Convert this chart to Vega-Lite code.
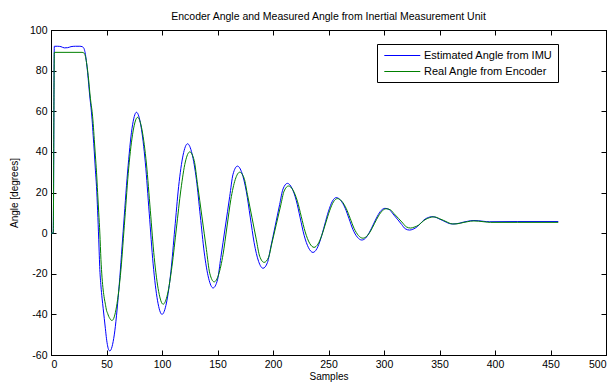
{
  "$schema": "https://vega.github.io/schema/vega-lite/v6.json",
  "width": 555,
  "height": 325,
  "autosize": {"type": "none"},
  "padding": {"left": 51, "top": 30, "right": 10, "bottom": 28},
  "background": "#ffffff",
  "title": {"text": "Encoder Angle and Measured Angle from Inertial Measurement Unit", "fontSize": 10.5, "fontWeight": "normal", "font": "Liberation Sans", "color": "#000000", "offset": 3, "anchor": "middle"},
  "datasets": {
    "imu": [
      {"s":0,"v":0},{"s":2,"v":0},{"s":3,"v":92},{"s":6,"v":92},{"s":9,"v":91.8},{"s":12,"v":91.2},{"s":15,"v":91.3},{"s":18,"v":91.8},{"s":22,"v":92},{"s":26,"v":92},{"s":28,"v":91.8},
      {"s":29,"v":91.5},{"s":30,"v":90.5},{"s":31,"v":88},{"s":32,"v":84},{"s":33,"v":79},{"s":34,"v":73},{"s":35,"v":67},{"s":36,"v":62},{"s":37,"v":56},{"s":38,"v":48},{"s":39,"v":40},{"s":40,"v":31},{"s":41,"v":23},{"s":42,"v":11},{"s":43,"v":-3},{"s":44,"v":-18},{"s":45,"v":-26},{"s":46,"v":-32},{"s":47,"v":-37},{"s":48,"v":-42},{"s":49,"v":-47},{"s":50,"v":-52},{"s":51,"v":-55.5},{"s":52,"v":-57.5},{"s":53,"v":-58},
      {"s":57,"v":-50.1},{"s":61,"v":-28.6},{"s":65,"v":0.8},{"s":69,"v":30.1},{"s":73,"v":51.6},{"s":77,"v":59.5},
      {"s":81,"v":52.8},{"s":85,"v":34.6},{"s":88.5,"v":9.8},{"s":92,"v":-15.1},{"s":96,"v":-33.3},{"s":100,"v":-40},
      {"s":104,"v":-34.4},{"s":108,"v":-19},{"s":111.5,"v":2},{"s":115,"v":23},{"s":119,"v":38.4},{"s":123,"v":44},
      {"s":127,"v":39.2},{"s":131,"v":26.3},{"s":134.5,"v":8.5},{"s":138,"v":-9.3},{"s":142,"v":-22.2},{"s":146,"v":-27},
      {"s":150,"v":-23},{"s":153,"v":-12},{"s":157,"v":3},{"s":161,"v":18},{"s":164,"v":29},{"s":168,"v":33},
      {"s":172,"v":29.6},{"s":176,"v":20.4},{"s":179.5,"v":7.9},{"s":183,"v":-4.7},{"s":187,"v":-13.9},{"s":191,"v":-17.3},
      {"s":195,"v":-14.5},{"s":198,"v":-6.9},{"s":202,"v":3.6},{"s":206,"v":14.1},{"s":209,"v":21.7},{"s":213,"v":24.5},
      {"s":217,"v":22.2},{"s":221,"v":16},{"s":224.5,"v":7.5},{"s":228,"v":-1},{"s":232,"v":-7.2},{"s":236,"v":-9.5},
      {"s":239.5,"v":-7.7},{"s":243,"v":-2.8},{"s":246.5,"v":4},{"s":250,"v":10.8},{"s":253.5,"v":15.7},{"s":257,"v":17.5},
      {"s":261,"v":16.1},{"s":265,"v":12.3},{"s":268.5,"v":7.1},{"s":272,"v":1.8},{"s":276,"v":-2},{"s":280,"v":-3.4},
      {"s":283.5,"v":-2.4},{"s":287,"v":0.5},{"s":290.5,"v":4.4},{"s":294,"v":8.3},{"s":297.5,"v":11.2},{"s":301,"v":12.2},
      {"s":305,"v":11.5},{"s":308,"v":9.5},{"s":312,"v":6.9},{"s":316,"v":4.2},{"s":319,"v":2.2},{"s":323,"v":1.5},
      {"s":326,"v":1.9},{"s":330,"v":3.2},{"s":333,"v":4.8},{"s":336,"v":6.5},{"s":340,"v":7.7},{"s":343,"v":8.1},
      {"s":346,"v":7.9},{"s":349,"v":7.2},{"s":352.5,"v":6.3},{"s":356,"v":5.4},{"s":359,"v":4.7},{"s":362,"v":4.5},
      {"s":365,"v":4.6},{"s":368,"v":4.9},{"s":371.5,"v":5.4},{"s":375,"v":5.8},{"s":378,"v":6.1},{"s":381,"v":6.2},
      {"s":385,"v":6.1},{"s":390,"v":5.8},{"s":395,"v":5.6},{"s":420,"v":5.7},{"s":457,"v":5.7}
    ],
    "enc": [
      {"s":0,"v":0},{"s":2,"v":0},{"s":3,"v":89},{"s":28,"v":89},{"s":30,"v":88.5},{"s":31,"v":87},{"s":32,"v":84},{"s":33,"v":80},{"s":34,"v":75},{"s":35,"v":69},{"s":36,"v":64},{"s":37,"v":60},{"s":38,"v":54},{"s":39,"v":46},{"s":40,"v":38},{"s":41,"v":30},{"s":42,"v":20},{"s":43,"v":10},{"s":44,"v":0},{"s":45,"v":-13},{"s":46,"v":-22},{"s":47,"v":-28},{"s":48,"v":-32},{"s":49,"v":-35},{"s":50,"v":-38},{"s":51,"v":-39.5},{"s":52,"v":-41},{"s":53,"v":-42},{"s":54,"v":-42.8},{"s":55,"v":-43},
      {"s":59,"v":-36.3},{"s":63,"v":-18},{"s":66.5,"v":7},{"s":70,"v":32},{"s":74,"v":50.3},{"s":78,"v":57},
      {"s":82,"v":50.8},{"s":86,"v":34},{"s":89.5,"v":11},{"s":93,"v":-12},{"s":97,"v":-28.8},{"s":101,"v":-35},
      {"s":105,"v":-30},{"s":109,"v":-16.3},{"s":113,"v":2.5},{"s":117,"v":21.3},{"s":121,"v":35},{"s":125,"v":40},
      {"s":129,"v":35.7},{"s":132,"v":24},{"s":136,"v":8},{"s":140,"v":-8},{"s":143,"v":-19.7},{"s":147,"v":-24},
      {"s":151,"v":-20.4},{"s":155,"v":-10.5},{"s":158.5,"v":3},{"s":162,"v":16.5},{"s":166,"v":26.4},{"s":170,"v":30},
      {"s":174,"v":27},{"s":177,"v":18.9},{"s":181,"v":7.8},{"s":185,"v":-3.3},{"s":188,"v":-11.4},{"s":192,"v":-14.4},
      {"s":196,"v":-11.9},{"s":199,"v":-5},{"s":203,"v":4.4},{"s":207,"v":13.8},{"s":210,"v":20.7},{"s":214,"v":23.2},
      {"s":218,"v":21.2},{"s":222,"v":15.7},{"s":225.5,"v":8.1},{"s":229,"v":0.6},{"s":233,"v":-5},{"s":237,"v":-7},
      {"s":240.5,"v":-5.4},{"s":244,"v":-1},{"s":247.5,"v":5},{"s":251,"v":11},{"s":254.5,"v":15.4},{"s":258,"v":17},
      {"s":262,"v":15.7},{"s":266,"v":12.1},{"s":269.5,"v":7.3},{"s":273,"v":2.4},{"s":277,"v":-1.2},{"s":281,"v":-2.5},
      {"s":284.5,"v":-1.5},{"s":288,"v":1.1},{"s":291.5,"v":4.8},{"s":295,"v":8.4},{"s":298.5,"v":11},{"s":302,"v":12},
      {"s":306,"v":11.4},{"s":309,"v":9.6},{"s":313,"v":7.3},{"s":317,"v":4.9},{"s":320,"v":3.1},{"s":324,"v":2.5},
      {"s":327,"v":2.9},{"s":331,"v":3.9},{"s":334,"v":5.3},{"s":337,"v":6.6},{"s":341,"v":7.6},{"s":344,"v":8},
      {"s":347,"v":7.8},{"s":350,"v":7.1},{"s":353.5,"v":6.3},{"s":357,"v":5.4},{"s":360,"v":4.7},{"s":363,"v":4.5},
      {"s":366,"v":4.6},{"s":369,"v":4.9},{"s":372,"v":5.3},{"s":375,"v":5.6},{"s":378,"v":5.9},{"s":381,"v":6},
      {"s":385,"v":5.9},{"s":390,"v":5.6},{"s":396,"v":5.3},{"s":420,"v":5.3},{"s":457,"v":5.3}
    ]
  },
  "config": {
    "font": "Liberation Sans",
    "view": {"stroke": "#000000", "strokeWidth": 1},
    "axis": {
      "grid": false,
      "domainColor": "#000000",
      "tickColor": "#000000",
      "tickSize": -5,
      "labelColor": "#000000",
      "labelFont": "Liberation Sans",
      "labelFontSize": 10.5,
      "titleFont": "Liberation Sans",
      "titleFontSize": 10,
      "titleFontWeight": "normal",
      "titleColor": "#000000"
    },
    "legend": {
      "orient": "none",
      "legendX": 326,
      "legendY": 14,
      "strokeColor": "#000000",
      "fillColor": "#ffffff",
      "padding": 5,
      "symbolType": "M-0.7,0L5.3,0",
      "symbolSize": 144,
      "symbolStrokeWidth": 1,
      "labelFont": "Liberation Sans",
      "labelFontSize": 11,
      "labelColor": "#000000",
      "labelOffset": 29,
      "rowPadding": 4,
      "title": null
    }
  },
  "layer": [
    {
      "data": {"name": "imu"},
      "mark": {"type": "line", "strokeWidth": 1, "interpolate": "monotone"},
      "encoding": {
        "x": {"field": "s", "type": "quantitative", "scale": {"domain": [0, 500], "nice": false, "zero": false},
              "axis": {"orient": "bottom", "values": [0,50,100,150,200,250,300,350,400,450,500], "title": "Samples", "labelPadding": 9, "titlePadding": 2, "labelExpr": "'' + datum.value"}},
        "y": {"field": "v", "type": "quantitative", "scale": {"domain": [-60, 100], "nice": false, "zero": false},
              "axis": {"orient": "left", "values": [-60,-40,-20,0,20,40,60,80,100], "title": "Angle [degrees]", "labelPadding": 9, "titlePadding": 10, "labelExpr": "'' + datum.value"}},
        "color": {"datum": "Estimated Angle from IMU", "type": "nominal",
                  "scale": {"domain": ["Estimated Angle from IMU", "Real Angle from Encoder"], "range": ["#0000ff", "#008000"]},
                  "legend": {"title": null}}
      }
    },
    {
      "data": {"name": "enc"},
      "mark": {"type": "line", "strokeWidth": 1, "interpolate": "monotone"},
      "encoding": {
        "x": {"field": "s", "type": "quantitative",
              "axis": {"orient": "top", "values": [0,50,100,150,200,250,300,350,400,450,500], "labels": false, "title": null}},
        "y": {"field": "v", "type": "quantitative",
              "axis": {"orient": "right", "values": [-60,-40,-20,0,20,40,60,80,100], "labels": false, "title": null}},
        "color": {"datum": "Real Angle from Encoder", "type": "nominal"}
      }
    }
  ],
  "resolve": {"axis": {"x": "independent", "y": "independent"}}
}
